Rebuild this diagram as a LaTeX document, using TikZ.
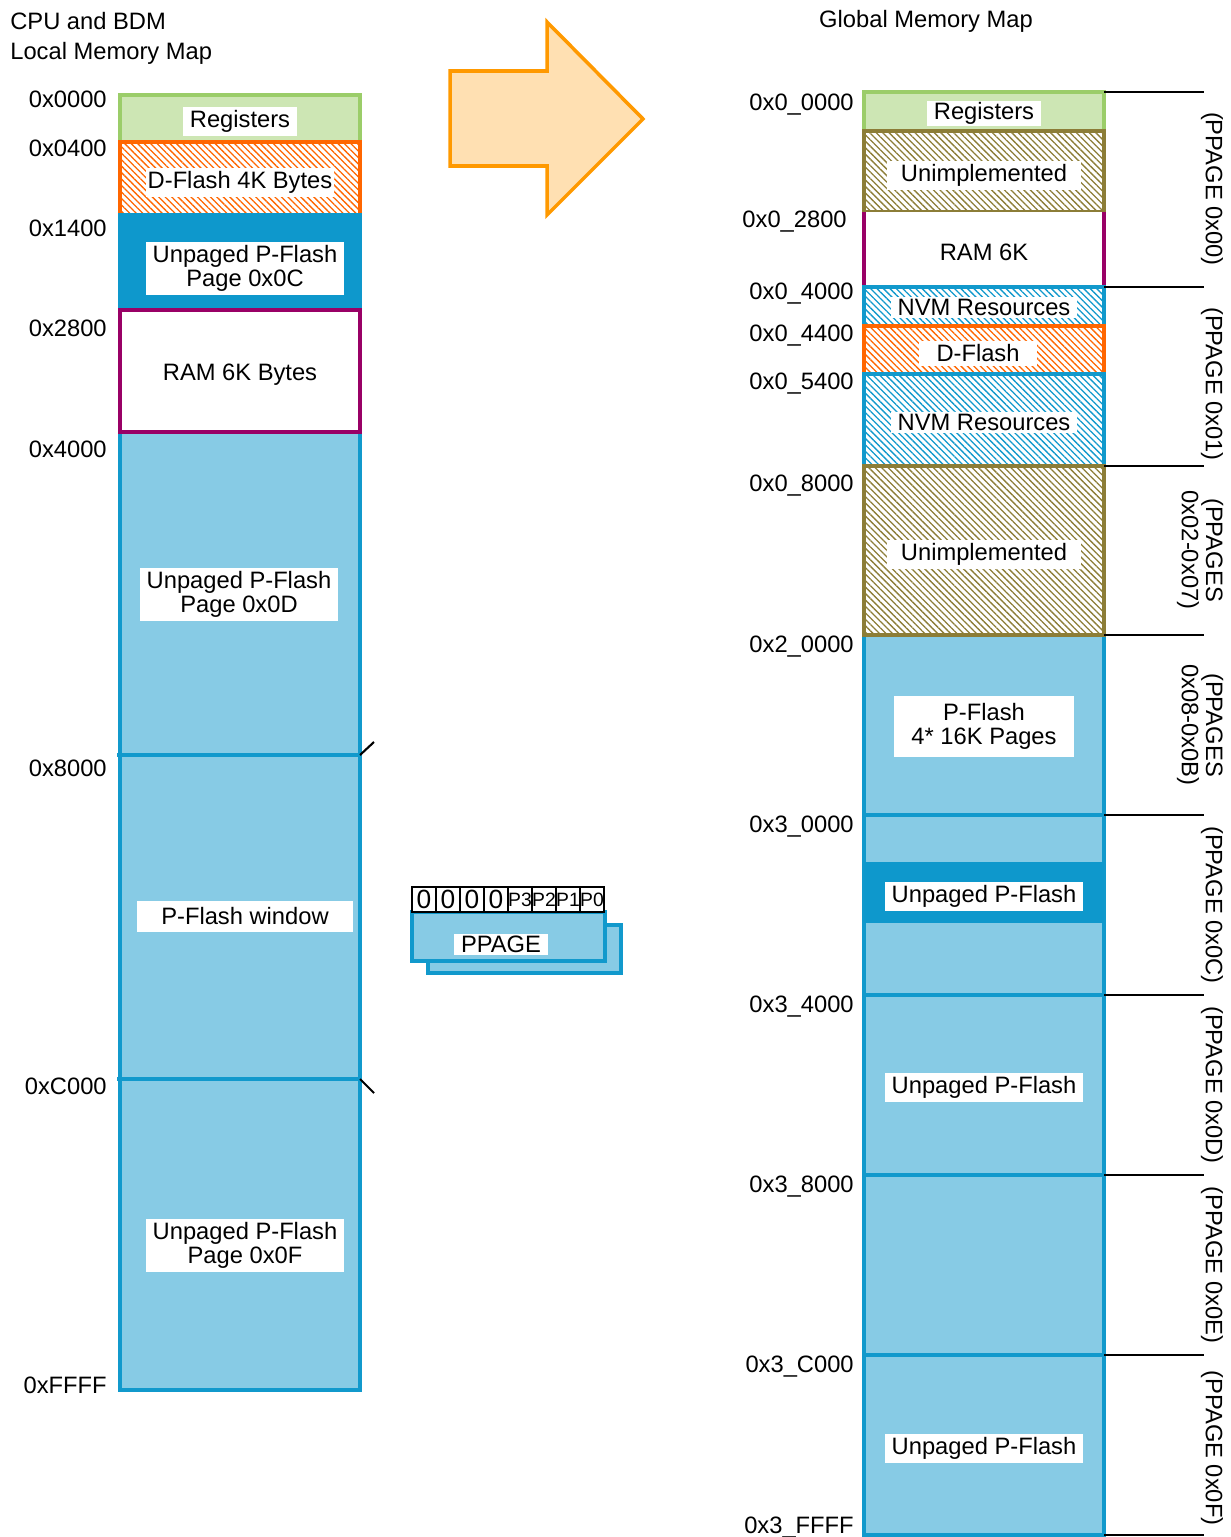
\documentclass[tikz,border=0pt]{standalone}
\usepackage{fontspec}
\setmainfont{Liberation Sans}
\usetikzlibrary{patterns.meta, positioning}

\definecolor{regfill}{RGB}{205,230,180}
\definecolor{regline}{RGB}{155,205,105}
\definecolor{dforange}{RGB}{255,102,0}
\definecolor{upfill}{RGB}{14,152,204}
\definecolor{ramline}{RGB}{153,0,102}
\definecolor{pfill}{RGB}{135,203,229}
\definecolor{blueline}{RGB}{17,153,204}
\definecolor{olive}{RGB}{140,125,55}
\definecolor{arrowline}{RGB}{255,153,0}
\definecolor{arrowfill}{RGB}{255,224,178}

\begin{document}
\begin{tikzpicture}[
	x=0.02cm, y=-0.02cm,
	font=\fontsize{13.5}{13.8}\selectfont,
	% Style for the paged flash body
	mem/.style={draw=blueline, line width=2pt, fill=pfill},
	% Style for block borders
	edge/.style={line width=2pt},
	% Style for hatched blocks
	hatch/.style={line width=2pt, draw=#1,
		pattern={Lines[angle=-45, distance=2.6pt, line width=0.75pt]}, pattern color=#1},
	% Style for plain text
	txt/.style={yshift=-0.05cm},
	% Style for white text boxes
	lbl/.style={txt, fill=white, align=center, inner xsep=4pt, inner ysep=2pt},
	% Style for address labels
	addr/.style={txt, anchor=east, inner sep=0pt},
	% Style for page labels at the right
	pg/.style={rotate=-90, align=center, inner sep=0pt},
	% Style for register bits
	bit/.style={draw, line width=1.2pt, fill=white, minimum width=0.48cm, minimum height=0.5cm, inner sep=0pt}
	]
	\useasboundingbox (0,0) rectangle (1230,1537);
	
	% 1. Titles
	\node[txt, anchor=west, inner sep=0pt] (cpu_title) at (10,19) {CPU and BDM};
	\node[txt, anchor=west, inner sep=0pt] (loc_title) at (10,51) {Local Memory Map};
	\node[txt, inner sep=0pt] (glob_title) at (926,19) {Global Memory Map};
	
	% 2. Local memory map (left column)
	\draw[mem] (120,432) rectangle (360,1390);
	\draw[edge, blueline] (117,755) -- (360,755);
	\draw[edge, blueline] (117,1079) -- (360,1079);
	\draw[edge, draw=regline, fill=regfill] (120,95) rectangle (360,142);
	\draw[hatch=dforange] (120,142) rectangle (360,215);
	\draw[edge, draw=upfill, fill=upfill] (120,215) rectangle (360,310);
	\draw[edge, draw=ramline, fill=white] (120,310) rectangle (360,432);
	% window markers
	\draw[line width=1.2pt] (360,755) -- (374,742);
	\draw[line width=1.2pt] (360,1079) -- (374,1093);
	
	\node[lbl] (l_reg) at (240,119) {Registers};
	\node[lbl, inner xsep=1pt] (l_dflash) at (240,180) {D-Flash 4K Bytes};
	\node[lbl] (l_up0c) at (245,266) {Unpaged P-Flash\\Page 0x0C};
	\node[txt] (l_ram) at (240,372) {RAM 6K Bytes};
	\node[lbl] (l_up0d) at (239,592) {Unpaged P-Flash\\Page 0x0D};
	\node[lbl, inner xsep=14pt, inner ysep=4pt] (l_win) at (245,914) {P-Flash window};
	\node[lbl] (l_up0f) at (245,1243) {Unpaged P-Flash\\Page 0x0F};
	
	\node[addr] (a_0000) at (107,97) {0x0000};
	\node[addr] (a_0400) at (107,146) {0x0400};
	\node[addr] (a_1400) at (107,226) {0x1400};
	\node[addr] (a_2800) at (107,326) {0x2800};
	\node[addr] (a_4000) at (107,447) {0x4000};
	\node[addr] (a_8000) at (107,766) {0x8000};
	\node[addr] (a_c000) at (107,1084) {0xC000};
	\node[addr] (a_ffff) at (107,1383) {0xFFFF};
	
	% 3. Mapping arrow
	\draw[line width=2pt, draw=arrowline, fill=arrowfill]
	(450,71) -- (547,71) -- (547,22) -- (643,119) -- (547,215) -- (547,166) -- (450,166) -- cycle;
	
	% 4. PPAGE register
	\draw[mem] (428,925) rectangle (621,973);
	\draw[mem] (412,912) rectangle (605,961);
	\node[lbl, inner ysep=1pt] (ppage) at (501,942) {PPAGE};
	\foreach \t [count=\i from 0] in {0,0,0,0} {
		\node[bit, font=\fontsize{15}{15}\selectfont] (bit\i) at (424+24*\i,899.5) {\t};
	}
	\foreach \t [count=\i from 4] in {P3,P2,P1,P0} {
		\node[bit, font=\fontsize{11}{11}\selectfont] (bit\i) at (424+24*\i,899.5) {\makebox[0pt]{\t}};
	}
	
	% 5. Global memory map (right column)
	\draw[mem] (864,635) rectangle (1104,1535);
	\foreach \y in {815,995,1175,1355} {
		\draw[edge, blueline] (862,\y) -- (1104,\y);
	}
	\fill[upfill] (864,862) rectangle (1104,923);
	\draw[edge, draw=regline, fill=regfill] (864,92) rectangle (1104,131);
	\draw[hatch=olive] (864,131) rectangle (1104,212);
	\fill[white] (864,212) rectangle (1104,287);
	\draw[edge, ramline] (864,212) -- (864,287) (1104,212) -- (1104,287);
	\draw[hatch=blueline] (864,287) rectangle (1104,326);
	\draw[hatch=dforange] (864,326) rectangle (1104,374);
	\draw[hatch=blueline] (864,374) rectangle (1104,466);
	\draw[hatch=olive] (864,466) rectangle (1104,635);
	
	\node[lbl, inner ysep=1pt] (g_reg) at (984,111) {Registers};
	\node[lbl, inner xsep=8pt] (g_unimp1) at (984,173) {Unimplemented};
	\node[txt] (g_ram) at (984,250) {RAM 6K};
	\node[lbl, inner ysep=1pt] (g_nvm1) at (984,305) {NVM Resources};
	\node[lbl, inner xsep=10pt] (g_dflash) at (978,351) {D-Flash};
	\node[lbl, inner ysep=1pt] (g_nvm2) at (984,420) {NVM Resources};
	\node[lbl, inner xsep=8pt] (g_unimp2) at (984,552) {Unimplemented};
	\node[lbl, inner xsep=10pt, inner ysep=4pt] (g_pflash) at (984,724) {P-Flash\\4* 16K Pages};
	\node[lbl] (g_up0c) at (984,894) {Unpaged P-Flash};
	\node[lbl] (g_up0d) at (984,1085) {Unpaged P-Flash};
	\node[lbl] (g_up0f) at (984,1446) {Unpaged P-Flash};
	
	\node[addr] (ga_00000) at (854,102) {0x0\_0000};
	\node[addr] (ga_02800) at (847,219) {0x0\_2800};
	\node[addr] (ga_04000) at (854,291) {0x0\_4000};
	\node[addr] (ga_04400) at (854,333) {0x0\_4400};
	\node[addr] (ga_05400) at (854,381) {0x0\_5400};
	\node[addr] (ga_08000) at (854,483) {0x0\_8000};
	\node[addr] (ga_20000) at (854,644) {0x2\_0000};
	\node[addr] (ga_30000) at (854,824) {0x3\_0000};
	\node[addr] (ga_34000) at (854,1004) {0x3\_4000};
	\node[addr] (ga_38000) at (854,1184) {0x3\_8000};
	\node[addr] (ga_3c000) at (854,1364) {0x3\_C000};
	\node[addr] (ga_3ffff) at (854,1525) {0x3\_FFFF};
	
	% 6. Page boundaries and page numbers
	\foreach \y in {92,287,466,635,815,995,1175,1355,1535} {
		\draw[line width=1.2pt] (1104,\y) -- (1204,\y);
	}
	\node[pg] (p_00) at (1212,189) {(PPAGE 0x00)};
	\node[pg] (p_01) at (1212,384) {(PPAGE 0x01)};
	\node[pg] (p_02) at (1200,550) {(PPAGES\\0x02-0x07)};
	\node[pg] (p_08) at (1200,725) {(PPAGES\\0x08-0x0B)};
	\node[pg] (p_0c) at (1212,905) {(PPAGE 0x0C)};
	\node[pg] (p_0d) at (1212,1085) {(PPAGE 0x0D)};
	\node[pg] (p_0e) at (1212,1265) {(PPAGE 0x0E)};
	\node[pg] (p_0f) at (1212,1448) {(PPAGE 0x0F)};
	
\end{tikzpicture}
\end{document}
